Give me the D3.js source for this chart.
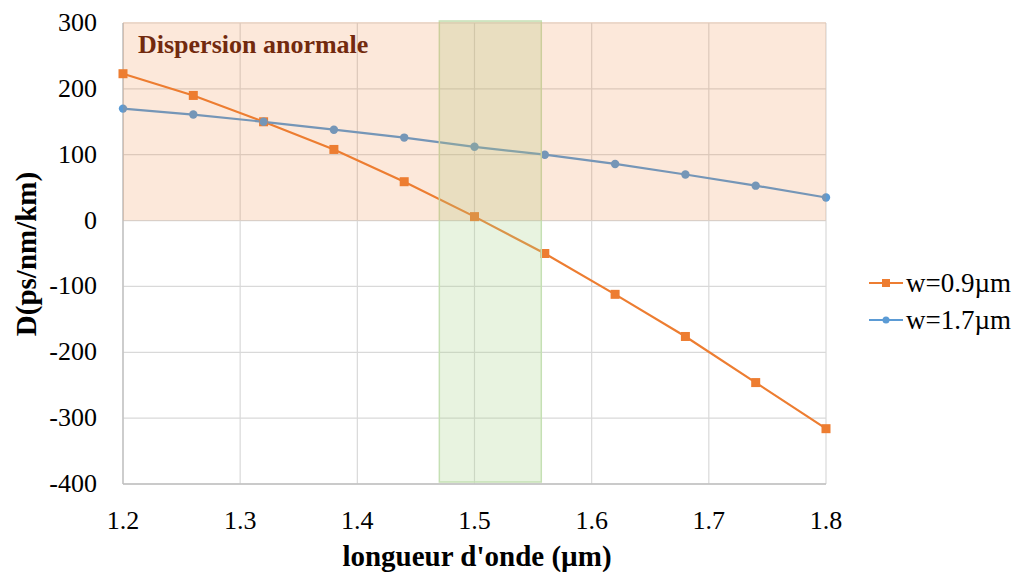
<!DOCTYPE html>
<html><head><meta charset="utf-8">
<script src="https://cdn.jsdelivr.net/npm/d3@7/dist/d3.min.js"></script>
<style>body{margin:0;background:#fff}svg{display:block}svg text{font-family:"Liberation Serif","DejaVu Serif",serif}</style>
</head><body>
<svg id="c" width="1024" height="572"></svg>
<script>
const wavelengths = [1.2, 1.26, 1.32, 1.38, 1.44, 1.5, 1.56, 1.62, 1.68, 1.74, 1.8];
const seriesW09 = [223, 190, 150, 108, 59, 6, -50, -112, -176, -246, -316];
const seriesW17 = [170, 161, 150, 138, 126, 112, 100, 86, 70, 53, 35];
const seriesNames = ["w=0.9\u00b5m", "w=1.7\u00b5m"];
const xTicks = [1.2, 1.3, 1.4, 1.5, 1.6, 1.7, 1.8];
const yTicks = [300, 200, 100, 0, -100, -200, -300, -400];
const anomalousRange = [0, 300];
const greenBand = [1.47, 1.557];
const titleText = "Dispersion anormale";
const xTitle = "longueur d'onde (\u00b5m)";
const yTitle = "D(ps/nm/km)";

const svg = d3.select("#c");
const x = d3.scaleLinear().domain([1.2, 1.8]).range([123, 826]);
const y = d3.scaleLinear().domain([-400, 300]).range([484, 23]);

// grid
svg.append("g").selectAll("line").data(yTicks).join("line")
  .attr("x1", x(1.2)).attr("x2", x(1.8)).attr("y1", d => y(d)).attr("y2", d => y(d))
  .attr("stroke", "#d9d9d9").attr("stroke-width", 1.2);
svg.append("g").selectAll("line").data(xTicks).join("line")
  .attr("x1", d => x(d)).attr("x2", d => x(d)).attr("y1", y(300)).attr("y2", y(-400))
  .attr("stroke", "#d9d9d9").attr("stroke-width", 1.2);
svg.append("line").attr("x1", x(1.2)).attr("x2", x(1.2)).attr("y1", y(300)).attr("y2", y(-400))
  .attr("stroke", "#bfbfbf").attr("stroke-width", 1.3);
svg.append("line").attr("x1", x(1.2)).attr("x2", x(1.8)).attr("y1", y(-400)).attr("y2", y(-400))
  .attr("stroke", "#bfbfbf").attr("stroke-width", 1.3);

// series
const colors = ["#ed7d31", "#5b9bd5"];
const line = d3.line().x((d, i) => x(wavelengths[i])).y(d => y(d));
[seriesW09, seriesW17].forEach((s, k) => {
  svg.append("path").datum(s).attr("d", line).attr("fill", "none")
    .attr("stroke", colors[k]).attr("stroke-width", 2.2);
});
svg.append("g").selectAll("rect").data(seriesW09).join("rect")
  .attr("x", (d, i) => x(wavelengths[i]) - 4.5).attr("y", d => y(d) - 4.5)
  .attr("width", 9).attr("height", 9).attr("fill", colors[0]);
svg.append("g").selectAll("circle").data(seriesW17).join("circle")
  .attr("cx", (d, i) => x(wavelengths[i])).attr("cy", d => y(d)).attr("r", 4.2)
  .attr("fill", colors[1]);

// overlays
svg.append("rect").attr("x", x(greenBand[0])).attr("y", y(300) - 2)
  .attr("width", x(greenBand[1]) - x(greenBand[0])).attr("height", y(-400) - y(300))
  .attr("fill", "#a9d18e").attr("fill-opacity", 0.27)
  .attr("stroke", "#c5e0b4").attr("stroke-width", 1.5);
svg.append("rect").attr("x", x(1.2)).attr("y", y(anomalousRange[1]) - 1)
  .attr("width", x(1.8) - x(1.2)).attr("height", y(anomalousRange[0]) - y(anomalousRange[1]) + 1)
  .attr("fill", "#ed7d31").attr("fill-opacity", 0.18);

// title in plot
svg.append("text").attr("x", 138).attr("y", 53).text(titleText)
  .attr("font-weight", "bold").attr("font-size", 26).attr("fill", "#722a0e");

// tick labels
svg.append("g").selectAll("text").data(yTicks).join("text")
  .attr("x", 97).attr("y", d => y(d) + 8).attr("text-anchor", "end")
  .attr("font-size", 26).attr("fill", "#000")
  .text(d => d);
svg.append("g").selectAll("text").data(xTicks).join("text")
  .attr("x", d => x(d)).attr("y", 529).attr("text-anchor", "middle")
  .attr("font-size", 26).attr("fill", "#000")
  .text(d => d.toFixed(1));

// axis titles
svg.append("text").attr("x", 477).attr("y", 566).attr("text-anchor", "middle")
  .attr("font-weight", "bold").attr("font-size", 29).text(xTitle);
svg.append("text").attr("transform", "translate(36,254) rotate(-90)").attr("text-anchor", "middle")
  .attr("font-weight", "bold").attr("font-size", 29).text(yTitle);

// legend
const lg = svg.append("g");
seriesNames.forEach((n, k) => {
  const ly = 283 + k * 37;
  lg.append("line").attr("x1", 869).attr("x2", 903).attr("y1", ly).attr("y2", ly)
    .attr("stroke", colors[k]).attr("stroke-width", 2.2);
  if (k === 0) lg.append("rect").attr("x", 882).attr("y", ly - 4).attr("width", 8).attr("height", 8).attr("fill", colors[k]);
  else lg.append("circle").attr("cx", 886).attr("cy", ly).attr("r", 3.5).attr("fill", colors[k]);
  lg.append("text").attr("x", 906).attr("y", ly + 9).text(n)
    .attr("font-size", 27);
});
</script>
</body></html>
